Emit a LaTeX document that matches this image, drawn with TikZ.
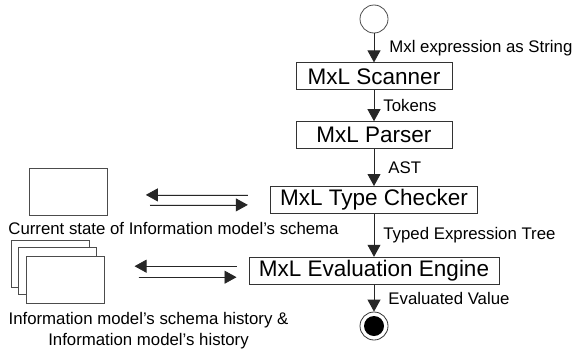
\documentclass[tikz,border=0pt]{standalone}
\usepackage{fontspec}
\setmainfont{Liberation Sans}
\usetikzlibrary{positioning,arrows.meta}

\tikzstyle{block}=[rectangle,draw=black!80,line width=0.8pt,fill=white,minimum height=27pt,inner xsep=10pt,inner ysep=1pt,font=\fontsize{22.5}{24}\selectfont]
\tikzstyle{wideblock}=[block,minimum width=156pt]
\tikzstyle{doc}=[rectangle,draw=black!70,line width=0.8pt,fill=white,minimum width=78pt,minimum height=47pt]
\tikzstyle{lbl}=[font=\fontsize{16.8}{21}\selectfont,inner sep=0pt]
\tikzstyle{pre}=[<-,>={Triangle[length=12pt,width=13pt]},line width=0.8pt,draw=black!85,fill=black]
\tikzstyle{post}=[->,>={Triangle[length=12pt,width=13pt]},line width=0.8pt,draw=black!85,fill=black]

\begin{document}
\begin{tikzpicture}[x=1pt,y=-1pt]
        \useasboundingbox (0,0) rectangle (572,351);

        \node[circle,draw=black!70,line width=0.8pt,minimum size=28pt,inner sep=0pt] (start) at (374,19) {};

        \node[wideblock] (scanner) [below=29pt of start] {MxL Scanner}
         edge[pre] node[lbl,anchor=west,xshift=15pt] {Mxl expression as String} (start);
        \node[wideblock] (parser)  [below=31pt of scanner] {MxL Parser}
         edge[pre] node[lbl,anchor=west,xshift=9pt] {Tokens} (scanner);
        \node[block] (checker)     [below=37pt of parser] {MxL Type Checker}
         edge[pre] node[lbl,anchor=west,xshift=14pt] {AST} (parser);
        \node[block] (engine)      [below=43pt of checker] {MxL Evaluation Engine}
         edge[pre] node[lbl,anchor=west,xshift=9pt] {Typed Expression Tree} (checker);

        \node[circle,draw=black!80,line width=0.8pt,fill=white,minimum size=28pt,inner sep=0pt] (stop) [below=27pt of engine] {};
        \fill[black] (stop.center) circle (10pt);
        \draw[pre] (stop) -- node[lbl,anchor=west,xshift=14pt] {Evaluated Value} (engine);

        % current schema
        \node[doc] (current) at (68,191.5) {};
        \node[lbl] (currentlbl) at (173.5,228) {Current state of Information model's schema};

        \coordinate (cr) at ([xshift=-22pt]checker.west);
        \coordinate (cl) at ([xshift=-124pt]checker.west);
        \draw[post] ([yshift=5pt]cr) -- ([yshift=5pt]cl);
        \draw[post] ([shift={(4pt,-5pt)}]cl) -- ([yshift=-5pt]cr);

        % history stack
        \node[doc] (hist1) at (50,263.5) {};
        \node[doc] (hist2) at (57.5,271) {};
        \node[doc] (hist3) at (65.5,279.5) {};
        \node[lbl,align=center] (histlbl) at (148.5,330.5) {Information model's schema history \&\\Information model's history};

        \coordinate (er) at ([xshift=-12pt]engine.west);
        \coordinate (el) at ([xshift=-114pt]engine.west);
        \draw[post] ([yshift=4.5pt]er) -- ([yshift=4.5pt]el);
        \draw[post] ([shift={(4pt,-6.5pt)}]el) -- ([yshift=-6.5pt]er);
\end{tikzpicture}
\end{document}
